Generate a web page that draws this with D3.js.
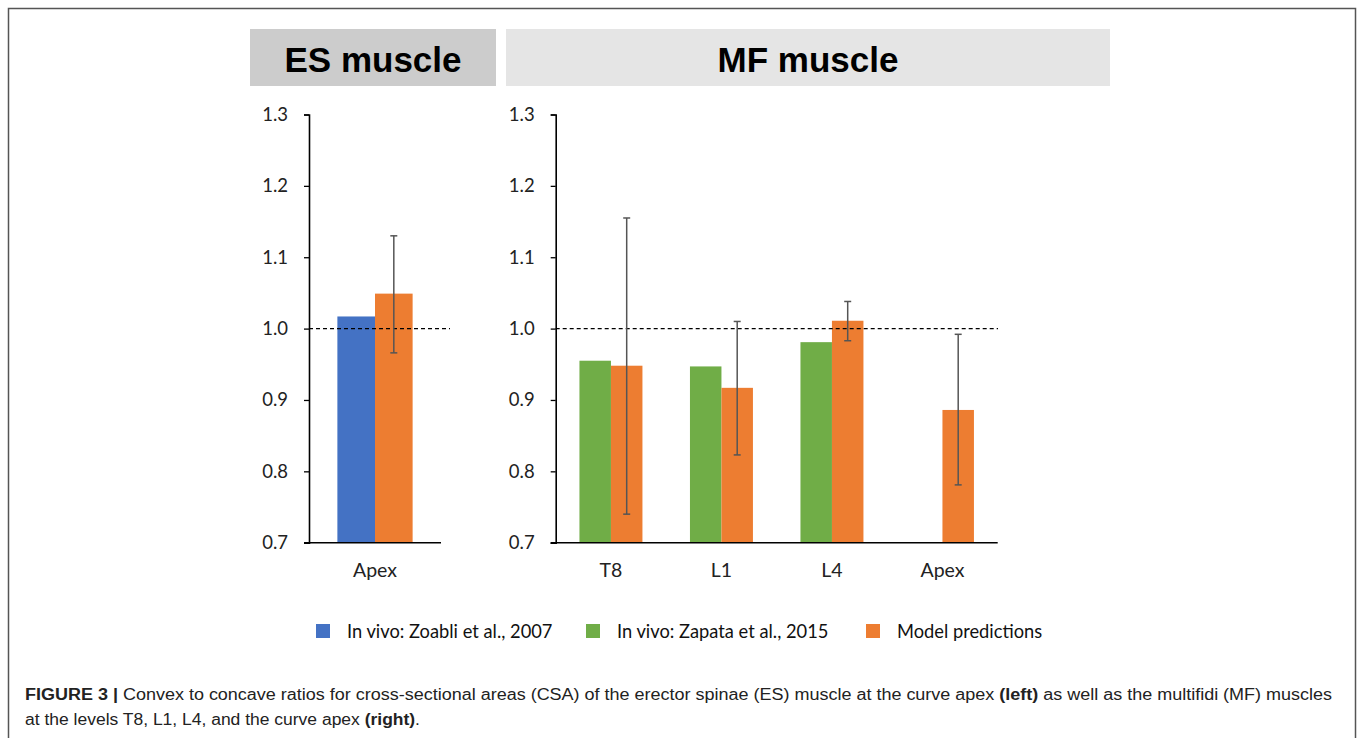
<!DOCTYPE html>
<html><head><meta charset="utf-8">
<script src="https://cdn.jsdelivr.net/npm/d3@7"></script>
<style>
html,body{margin:0;padding:0;background:#fff;}
svg{display:block;}
</style></head>
<body>
<svg id="chart" width="1360" height="738"></svg>
<script>
// ---------- data ----------
const esCategories = ["Apex"];
const esInVivo = [1.017];          // In vivo: Zoabli et al., 2007
const esModel = [1.049];           // Model predictions
const esModelErrLow = [0.966];
const esModelErrHigh = [1.130];

const mfCategories = ["T8", "L1", "L4", "Apex"];
const mfInVivo = [0.955, 0.947, 0.981, null];   // In vivo: Zapata et al., 2015
const mfModel = [0.948, 0.917, 1.011, 0.886];   // Model predictions
const mfModelErrLow = [0.740, 0.823, 0.983, 0.781];
const mfModelErrHigh = [1.155, 1.010, 1.038, 0.992];

const yTicks = [0.7, 0.8, 0.9, 1.0, 1.1, 1.2, 1.3];
const legendLabels = ["In vivo: Zoabli et al., 2007", "In vivo: Zapata et al., 2015", "Model predictions"];
const panelTitles = ["ES muscle", "MF muscle"];

// ---------- styles ----------
const C_BLUE = "#4472C4", C_GREEN = "#70AD47", C_ORANGE = "#ED7D31";
const chartFont = "Lato, 'Open Sans', sans-serif";

const svg = d3.select("#chart");

// outer frame
svg.append("rect").attr("x", 8.5).attr("y", 8.5).attr("width", 1347).attr("height", 760)
  .attr("fill", "none").attr("stroke", "#555").attr("stroke-width", 1.5);

const y = d3.scaleLinear().domain([0.7, 1.3]).range([542.7, 114.5]);

function panel(opts) {
  const g = svg.append("g");
  // header box
  g.append("rect").attr("x", opts.boxX0).attr("y", 29).attr("width", opts.boxX1 - opts.boxX0).attr("height", 57)
    .attr("fill", opts.boxFill);
  g.append("text").attr("x", (opts.boxX0 + opts.boxX1) / 2).attr("y", 72)
    .attr("text-anchor", "middle").attr("font-family", "'Liberation Sans', Arial, sans-serif")
    .attr("font-weight", "bold").attr("font-size", 35).attr("fill", "#000").text(opts.title);

  const x = d3.scaleBand().domain(opts.categories).range([opts.x0, opts.x1]).padding(0);
  const groupW = x.bandwidth() * 0.57;
  const xs = d3.scaleBand().domain([0, 1]).range([-groupW / 2, groupW / 2]).padding(0);

  // y axis
  const yAxis = d3.axisLeft(y).tickValues(yTicks).tickFormat(d3.format(".1f")).tickSize(5).tickPadding(16);
  const ya = g.append("g").attr("transform", `translate(${opts.x0},0)`).call(yAxis);
  ya.select(".domain").attr("stroke", "#000").attr("stroke-width", 1.6);
  ya.selectAll(".tick line").attr("stroke", "#000").attr("stroke-width", 1.3);
  ya.selectAll(".tick text").attr("font-family", chartFont).attr("font-size", 18.5).attr("fill", "#222");

  // bars
  const rows = opts.categories.map((c, i) => ({
    c, a: opts.inVivo[i], m: opts.model[i], lo: opts.errLow[i], hi: opts.errHigh[i]
  }));
  const bg = g.append("g");
  bg.selectAll("rect.a").data(rows.filter(d => d.a != null)).join("rect")
    .attr("x", d => x(d.c) + x.bandwidth() / 2 + xs(0)).attr("width", xs.bandwidth())
    .attr("y", d => y(d.a)).attr("height", d => y(0.7) - y(d.a)).attr("fill", opts.color);
  bg.selectAll("rect.m").data(rows).join("rect")
    .attr("x", d => x(d.c) + x.bandwidth() / 2 + xs(1)).attr("width", xs.bandwidth())
    .attr("y", d => y(d.m)).attr("height", d => y(0.7) - y(d.m)).attr("fill", C_ORANGE);

  // dashed reference line at 1.0
  g.append("line").attr("x1", opts.x0).attr("x2", opts.dashEnd).attr("y1", y(1.0)).attr("y2", y(1.0))
    .attr("stroke", "#000").attr("stroke-width", 1.1).attr("stroke-dasharray", "4,3");

  // error bars
  const eg = g.append("g").attr("stroke", "#555").attr("stroke-width", 1.5);
  rows.forEach(d => {
    const cx = x(d.c) + x.bandwidth() / 2 + xs(1) + xs.bandwidth() / 2;
    eg.append("line").attr("x1", cx).attr("x2", cx).attr("y1", y(d.lo)).attr("y2", y(d.hi));
    eg.append("line").attr("x1", cx - 3.5).attr("x2", cx + 3.5).attr("y1", y(d.lo)).attr("y2", y(d.lo));
    eg.append("line").attr("x1", cx - 3.5).attr("x2", cx + 3.5).attr("y1", y(d.hi)).attr("y2", y(d.hi));
  });

  // x axis
  const xAxis = d3.axisBottom(x).tickSize(0).tickPadding(20.5);
  const xa = g.append("g").attr("transform", `translate(0,${y(0.7)})`).call(xAxis);
  xa.select(".domain").attr("d", `M${opts.x0 - 5},0H${opts.x1}`).attr("stroke", "#000").attr("stroke-width", 1.6);
  xa.selectAll(".tick text").attr("font-family", chartFont).attr("font-size", 19.5).attr("fill", "#222");
}

panel({
  title: panelTitles[0], boxX0: 250, boxX1: 496, boxFill: "#cccccc",
  categories: esCategories, inVivo: esInVivo, model: esModel, errLow: esModelErrLow, errHigh: esModelErrHigh,
  x0: 309, x1: 441, dashEnd: 450, color: C_BLUE
});
panel({
  title: panelTitles[1], boxX0: 506, boxX1: 1110, boxFill: "#e5e5e5",
  categories: mfCategories, inVivo: mfInVivo, model: mfModel, errLow: mfModelErrLow, errHigh: mfModelErrHigh,
  x0: 555.7, x1: 997.7, dashEnd: 998, color: C_GREEN
});

// legend
const legendX = [316, 586, 866];
const legendColors = [C_BLUE, C_GREEN, C_ORANGE];
const lg = svg.append("g");
legendLabels.forEach((t, i) => {
  lg.append("rect").attr("x", legendX[i]).attr("y", 624).attr("width", 14).attr("height", 14).attr("fill", legendColors[i]);
  lg.append("text").attr("x", legendX[i] + 31).attr("y", 638).attr("font-family", chartFont)
    .attr("font-size", 18.3).attr("fill", "#111").text(t);
});

// caption
const cap = svg.append("g").attr("font-family", "'Liberation Sans', Arial, sans-serif").attr("font-size", 16).attr("fill", "#222");
const l1 = cap.append("text").attr("x", 25).attr("y", 700).attr("textLength", 1307).attr("lengthAdjust", "spacingAndGlyphs");
l1.append("tspan").attr("font-weight", "bold").text("FIGURE 3 | ");
l1.append("tspan").text("Convex to concave ratios for cross-sectional areas (CSA) of the erector spinae (ES) muscle at the curve apex ");
l1.append("tspan").attr("font-weight", "bold").text("(left)");
l1.append("tspan").text(" as well as the multifidi (MF) muscles");
const l2 = cap.append("text").attr("x", 25).attr("y", 725).attr("textLength", 395).attr("lengthAdjust", "spacingAndGlyphs");
l2.append("tspan").text("at the levels T8, L1, L4, and the curve apex ");
l2.append("tspan").attr("font-weight", "bold").text("(right)");
l2.append("tspan").text(".");
</script>
</body></html>
